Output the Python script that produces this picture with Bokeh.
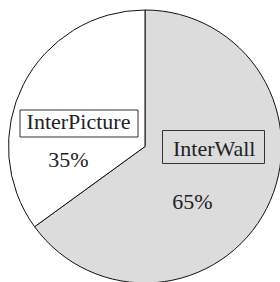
import math
from bokeh.plotting import figure
from bokeh.models import Range1d, ColumnDataSource
from bokeh.core.properties import value
from bokeh.embed import file_html
from bokeh.resources import INLINE

# ---- data ----
categories = ["InterWall", "InterPicture"]
shares = [65, 35]
pct_labels = ["65%", "35%"]
slice_colors = ["#dcdcdc", "#ffffff"]

# ---- layout (window px, y measured upward: y_up = 282 - y_window) ----
W, H = 280, 282
cx, cy, R = 144.5, H - 146, 136.5
TXT_ADJ = 7  # compensate text baseline offset

total = float(sum(shares))
starts, ends = [], []
acc = 0.0
for s in shares:
    starts.append(math.pi / 2 - 2 * math.pi * acc / total)
    acc += s
    ends.append(math.pi / 2 - 2 * math.pi * acc / total)

p = figure(width=W, height=H, output_backend="svg", toolbar_location=None,
           x_range=Range1d(0, W), y_range=Range1d(0, H), min_border=0)
p.axis.visible = False
p.grid.visible = False
p.outline_line_color = None
p.background_fill_color = "white"
p.border_fill_color = "white"

src = ColumnDataSource(dict(cat=categories, start=starts, end=ends, color=slice_colors))
p.wedge(x=cx, y=cy, radius=R, start_angle="start", end_angle="end", direction="clock",
        fill_color="color", line_color="#111111", line_width=1, source=src)

# label boxes and texts (positions are layout)
box_x = [213, 78.5]
box_y = [H - 146.5, H - 123]
box_w = [102, 118]
box_h = [33, 27]
name_x = [213.7, 78]
name_y = [H - 155 + TXT_ADJ, H - 127.7 + TXT_ADJ]
pct_x = [192, 68]
pct_y = [H - 208 + TXT_ADJ, H - 166 + TXT_ADJ]

lsrc = ColumnDataSource(dict(bx=box_x, by=box_y, bw=box_w, bh=box_h, color=slice_colors,
                             nx=name_x, ny=name_y, name=categories,
                             px=pct_x, py=pct_y, pct=pct_labels))
p.rect(x="bx", y="by", width="bw", height="bh", fill_color="color",
       line_color="#333333", line_width=1, source=lsrc)
p.text(x="nx", y="ny", text="name", text_align="center", text_baseline="alphabetic",
       text_font=value("Liberation Serif"), text_font_size="22px", text_color="#222222",
       source=lsrc)
p.text(x="px", y="py", text="pct", text_align="center", text_baseline="alphabetic",
       text_font=value("Liberation Serif"), text_font_size="22px", text_color="#222222",
       source=lsrc)

open("out.html", "w").write(file_html(p, INLINE))
